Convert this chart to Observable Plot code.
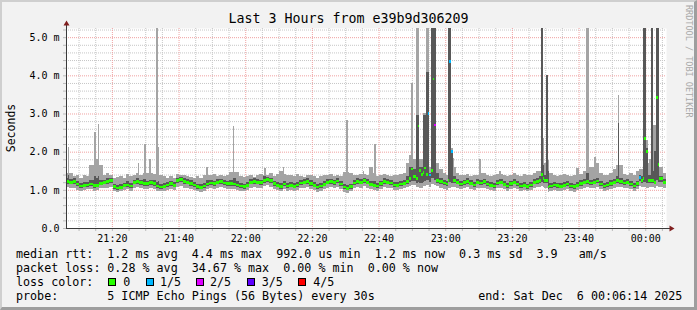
<!DOCTYPE html>
<html>
<head>
<meta charset="utf-8">
<script src="https://cdn.jsdelivr.net/npm/d3@7"></script>
<script src="https://cdn.jsdelivr.net/npm/@observablehq/plot@0.6"></script>
<style>
  html, body { margin: 0; padding: 0; background: #f2f2f2; }
  #wrap { position: relative; width: 697px; height: 310px; background: #f2f2f2; overflow: hidden;
          font-family: "DejaVu Sans Mono", monospace; color: #000; }
  #wrap > svg { position: absolute; left: 0; top: 0; }
  #border { position: absolute; left: 0; top: 0; width: 697px; height: 310px; box-sizing: border-box;
            border-style: solid; border-width: 2px 3px 3px 2px;
            border-color: #cfcfcf #9e9e9e #9e9e9e #cfcfcf; pointer-events: none; }
  .t { position: absolute; white-space: pre; line-height: 14px; font-size: 11.7px; }
  #title { position: absolute; left: 0; width: 697px; top: 11px; text-align: center; font-size: 13.3px; line-height: 16px; white-space: pre; }
  #wm { position: absolute; left: 684px; top: 5px; writing-mode: vertical-rl; font-size: 8.5px; line-height: 9px; color: #a9a9a9; white-space: pre; }
  #ylab { position: absolute; left: 10.5px; top: 128px; font-size: 11.5px; line-height: 12px; white-space: pre;
          transform: translate(-50%, -50%) rotate(-90deg); }
  .box { position: absolute; width: 6px; height: 6px; border: 1px solid #000; }
</style>
</head>
<body>
<div id="wrap">
  <div id="title">Last 3 Hours from e39b9d306209</div>
  <div id="wm">RRDTOOL / TOBI OETIKER</div>
  <div id="ylab">Seconds</div>
  <div id="border"></div>
</div>
<script>
// ---- data (milliseconds) ----
// base series: one row per minute from 21:06:14 to 00:06:14
const startMs = Date.UTC(2025, 11, 5, 21, 6, 14);
const stepMs = 60000;

const medianRtt = [
  1.21,1.20,1.22,1.15,1.10,1.12,1.13,1.15,1.11,1.12,
  1.17,1.20,1.21,1.25,1.08,1.05,1.06,1.12,1.13,1.10,
  1.20,1.21,1.19,1.17,1.16,1.19,1.17,1.10,1.07,1.09,
  1.13,1.16,1.12,1.25,1.27,1.22,1.20,1.17,1.13,1.08,
  1.06,1.10,1.15,1.18,1.16,1.20,1.21,1.18,1.16,1.17,
  1.15,1.13,1.10,1.08,1.12,1.20,1.22,1.20,1.19,1.25,
  1.27,1.24,1.16,1.12,1.08,1.15,1.10,1.12,1.09,1.13,
  1.18,1.20,1.22,1.17,1.12,1.07,1.10,1.14,1.20,1.21,
  1.19,1.23,1.15,1.07,1.04,1.08,1.18,1.22,1.20,1.24,
  1.20,1.14,1.12,1.10,1.16,1.22,1.20,1.18,1.13,1.12,
  1.15,1.17,1.22,1.30,1.35,1.35,1.40,1.45,1.40,1.39,
  1.35,1.25,1.22,1.18,1.15,1.25,1.25,1.20,1.15,1.19,
  1.22,1.17,1.13,1.20,1.18,1.21,1.15,1.12,1.10,1.18,
  1.20,1.14,1.10,1.16,1.20,1.15,1.10,1.12,1.08,1.13,
  1.20,1.22,1.25,1.25,1.07,1.10,1.13,1.11,1.09,1.12,
  1.15,1.10,1.08,1.12,1.17,1.20,1.22,1.18,1.20,1.23,
  1.15,1.10,1.13,1.17,1.20,1.25,1.22,1.18,1.20,1.15,
  1.10,1.16,1.25,1.30,1.25,1.25,1.20,1.30,1.30,1.20
];
const minRtt = [
  1.08,1.05,1.06,1.00,0.98,1.00,1.01,1.02,0.98,0.99,
  1.04,1.06,1.05,1.08,0.97,0.95,0.96,1.00,1.01,0.98,
  1.05,1.07,1.04,1.03,1.02,1.05,1.03,0.98,0.96,0.97,
  1.00,1.02,0.99,1.08,1.10,1.06,1.05,1.03,1.00,0.96,
  0.95,0.98,1.02,1.04,1.02,1.06,1.07,1.04,1.02,1.03,
  1.01,1.00,0.98,0.96,1.00,1.06,1.08,1.06,1.05,1.10,
  1.12,1.08,1.02,0.99,0.96,1.01,0.98,1.00,0.97,1.00,
  1.04,1.06,1.08,1.03,0.99,0.95,0.98,1.01,1.06,1.07,
  1.05,1.08,1.02,0.95,0.93,0.96,1.04,1.08,1.06,1.10,
  1.06,1.01,0.99,0.97,1.02,1.08,1.06,1.04,1.00,0.99,
  1.02,1.04,1.08,1.10,1.12,1.08,1.06,1.10,1.12,1.08,
  1.10,1.10,1.05,1.03,1.00,1.05,1.08,1.05,1.02,1.04,
  1.07,1.03,1.00,1.06,1.04,1.06,1.02,0.99,0.97,1.04,
  1.06,1.01,0.97,1.02,1.06,1.02,0.97,0.99,0.96,1.00,
  1.06,1.08,1.08,1.06,0.95,0.97,1.00,0.98,0.96,0.99,
  1.02,0.97,0.95,0.99,1.03,1.06,1.08,1.04,1.06,1.08,
  1.02,0.97,1.00,1.03,1.06,1.08,1.08,1.04,1.06,1.02,
  0.97,1.02,1.08,1.08,1.06,1.08,1.05,1.08,1.08,1.04
];
const p2Rtt = [
  1.15,1.14,1.16,1.10,1.05,1.07,1.08,1.10,1.06,1.07,
  1.12,1.14,1.15,1.18,1.03,1.00,1.01,1.07,1.08,1.05,
  1.14,1.15,1.13,1.11,1.10,1.13,1.11,1.05,1.02,1.04,
  1.08,1.10,1.07,1.18,1.20,1.16,1.14,1.11,1.08,1.03,
  1.01,1.05,1.09,1.12,1.10,1.14,1.15,1.12,1.10,1.11,
  1.09,1.08,1.05,1.03,1.07,1.14,1.16,1.14,1.13,1.18,
  1.20,1.17,1.10,1.07,1.03,1.09,1.05,1.07,1.04,1.08,
  1.12,1.14,1.16,1.11,1.07,1.02,1.05,1.09,1.14,1.15,
  1.13,1.17,1.10,1.02,0.99,1.03,1.12,1.16,1.14,1.18,
  1.14,1.09,1.07,1.05,1.10,1.16,1.14,1.12,1.08,1.07,
  1.10,1.12,1.16,1.20,1.22,1.20,1.18,1.22,1.22,1.20,
  1.20,1.18,1.16,1.12,1.10,1.18,1.18,1.14,1.10,1.13,
  1.16,1.12,1.08,1.14,1.12,1.15,1.10,1.07,1.05,1.12,
  1.14,1.09,1.05,1.10,1.14,1.10,1.05,1.07,1.03,1.08,
  1.14,1.16,1.18,1.18,1.02,1.05,1.08,1.06,1.04,1.07,
  1.10,1.05,1.03,1.07,1.11,1.14,1.16,1.12,1.14,1.17,
  1.10,1.05,1.08,1.11,1.14,1.18,1.16,1.12,1.14,1.10,
  1.05,1.10,1.18,1.20,1.18,1.18,1.14,1.20,1.20,1.14
];
const p4Rtt = [
  1.30,1.28,1.30,1.22,1.18,1.20,1.21,1.25,1.25,1.25,
  1.26,1.27,1.30,1.31,1.16,1.13,1.15,1.19,1.22,1.18,
  1.27,1.30,1.26,1.28,1.24,1.27,1.25,1.20,1.16,1.17,
  1.21,1.24,1.20,1.32,1.34,1.30,1.28,1.25,1.21,1.16,
  1.14,1.18,1.25,1.26,1.24,1.28,1.29,1.26,1.24,1.27,
  1.30,1.22,1.18,1.16,1.20,1.28,1.30,1.28,1.27,1.35,
  1.34,1.32,1.24,1.20,1.17,1.24,1.18,1.21,1.17,1.21,
  1.26,1.28,1.30,1.25,1.20,1.15,1.18,1.22,1.28,1.29,
  1.27,1.31,1.23,1.16,1.13,1.16,1.26,1.30,1.28,1.32,
  1.28,1.24,1.22,1.18,1.24,1.30,1.28,1.26,1.21,1.20,
  1.23,1.26,1.35,1.60,1.55,1.60,1.60,1.65,1.60,1.50,
  1.50,1.45,1.32,1.26,1.23,1.35,1.35,1.28,1.23,1.27,
  1.30,1.25,1.21,1.28,1.26,1.29,1.23,1.20,1.18,1.26,
  1.28,1.22,1.18,1.24,1.28,1.23,1.18,1.20,1.16,1.21,
  1.28,1.30,1.35,1.40,1.50,1.18,1.21,1.19,1.17,1.20,
  1.23,1.18,1.16,1.20,1.25,1.28,1.30,1.26,1.28,1.31,
  1.23,1.18,1.21,1.25,1.28,1.35,1.30,1.26,1.28,1.23,
  1.18,1.24,1.35,1.45,1.40,1.40,1.50,1.50,1.35,1.28
];
const maxRtt = [
  1.45,1.45,1.35,1.40,1.32,1.38,1.35,1.65,1.65,1.65,
  1.65,1.40,1.45,1.38,1.30,1.33,1.36,1.30,1.42,1.35,
  1.38,1.45,1.40,1.45,1.45,1.45,1.42,1.45,1.40,1.35,
  1.32,1.36,1.30,1.42,1.40,1.38,1.35,1.33,1.30,1.36,
  1.32,1.40,1.40,1.38,1.42,1.35,1.40,1.36,1.38,1.48,
  1.48,1.48,1.35,1.33,1.36,1.38,1.34,1.40,1.42,1.40,
  1.38,1.45,1.36,1.42,1.50,1.42,1.38,1.40,1.35,1.42,
  1.36,1.33,1.40,1.38,1.35,1.32,1.36,1.40,1.38,1.42,
  1.35,1.40,1.36,1.48,1.48,1.45,1.38,1.40,1.42,1.42,
  1.38,1.60,1.45,1.36,1.40,1.42,1.38,1.36,1.40,1.38,
  1.42,1.45,1.70,1.90,1.80,1.80,1.80,1.85,1.90,1.70,
  1.70,1.70,1.55,1.45,1.40,1.60,1.60,1.45,1.38,1.40,
  1.42,1.36,1.40,1.38,1.45,1.45,1.40,1.36,1.38,1.42,
  1.42,1.40,1.36,1.38,1.45,1.40,1.36,1.42,1.38,1.40,
  1.45,1.50,1.50,1.70,1.60,1.45,1.40,1.36,1.38,1.42,
  1.40,1.36,1.38,1.56,1.42,1.50,1.55,1.60,1.60,1.70,
  1.45,1.40,1.38,1.45,1.55,1.65,1.65,1.42,1.40,1.45,
  1.38,1.50,1.55,1.60,1.70,1.80,2.70,1.80,1.60,1.45
];

// finer detail: individual 30 s steps (index of the half-minute slot) that stand out
const spikeSlot = [1,17,18,19,43,47,50,54,55,84,100,119,130,168,178,185,
  207,210,211,212,214,215,216,217,218,219,220,221,229,230,231,232,248,260,
  285,286,287,288,289,312,313,317,331,344,346,347,348,351,352,353,354,355];
const spikeMin = [1.08,0.98,0.99,0.99,1.07,1.03,1.05,0.98,0.98,1.02,1.01,1.10,1.01,0.93,1.10,0.99,
  1.12,1.08,1.08,1.06,1.10,1.10,1.12,1.12,1.08,1.15,1.15,1.12,1.05,1.05,1.08,1.08,1.04,1.06,
  1.10,1.08,1.06,1.06,0.95,1.08,1.08,1.06,1.08,1.10,1.08,1.08,1.06,1.08,1.08,1.05,1.10,1.08];
const spikeP2 = [1.15,1.06,1.07,1.07,1.15,1.11,1.13,1.05,1.05,1.09,1.09,1.18,1.09,0.99,1.18,1.07,
  1.22,1.18,1.20,1.18,1.20,1.22,1.25,1.25,1.20,1.30,1.30,1.25,1.20,1.20,1.18,1.18,1.12,1.14,
  1.20,1.18,1.18,1.18,1.02,1.16,1.16,1.14,1.18,1.22,1.20,1.20,1.18,1.18,1.18,1.14,1.25,1.20];
const spikeMed = [1.21,1.11,1.12,1.12,1.21,1.17,1.19,1.10,1.10,1.15,1.15,1.25,1.15,1.04,1.24,1.12,
  1.55,1.30,2.67,1.50,1.45,1.57,1.40,3.00,1.39,1.50,3.90,2.70,1.25,4.36,2.00,1.25,1.18,1.20,
  1.40,1.30,1.25,1.25,1.07,1.22,1.22,1.20,1.25,1.32,1.30,2.35,2.00,1.25,1.25,1.20,3.42,1.67];
const spikeP4 = [1.39,1.35,1.30,1.35,1.30,1.28,1.27,1.20,1.22,1.25,1.30,1.35,1.24,1.13,1.32,1.22,
  1.60,2.95,2.95,1.60,2.95,2.95,4.10,4.10,1.45,6.00,6.00,6.00,6.00,6.00,2.05,1.35,1.26,1.28,
  6.00,1.65,1.40,4.00,1.50,1.45,1.45,1.28,2.75,1.40,6.00,6.00,2.10,6.00,1.50,2.03,6.00,6.00];
const spikeMax = [2.13,2.51,1.80,2.72,1.71,2.20,1.80,6.00,2.12,1.61,2.67,1.58,1.61,2.83,1.50,2.20,
  3.81,6.00,6.00,1.80,3.00,3.00,6.00,6.00,1.60,6.00,6.00,6.00,6.00,6.00,2.10,1.83,1.82,1.50,
  6.00,2.35,1.70,4.00,1.78,6.00,6.00,1.87,3.49,1.55,6.00,6.00,2.30,6.00,2.70,2.70,6.00,6.00];
const spikeLoss = [0,0,0,0,0,0,0,0,0,0,0,0,0,0,0,0,
  0,0,0,0,0,0,0,1,1,0,0,2,0,1,1,0,0,0,
  0,0,0,0,0,0,0,0,0,1,0,0,0,0,0,0,0,0];

const lossLabels = ["0", "1/5", "2/5", "3/5", "4/5"];
const lossColors = ["#26ff00", "#00b8ff", "#dd00ff", "#5e00ff", "#ff0000"];

const yTicks = [0, 1, 2, 3, 4, 5];
const yTickLabels = ["0.0", "1.0 m", "2.0 m", "3.0 m", "4.0 m", "5.0 m"];
const xTickLabels = ["21:20", "21:40", "22:00", "22:20", "22:40", "23:00", "23:20", "23:40", "00:00"];

const legendLines = [
  ["median rtt:", "1.2 ms avg  4.4 ms max  992.0 us min  1.2 ms now  0.3 ms sd  3.9   am/s"],
  ["packet loss:", "0.28 % avg  34.67 % max  0.00 % min  0.00 % now"],
  ["loss color:", null],
  ["probe:", "5 ICMP Echo Pings (56 Bytes) every 30s"]
];
const endText = "end: Sat Dec  6 00:06:14 2025";

// ---- build 30 s rows ----
const halfMs = stepMs / 2;
const start = new Date(startMs);
const end = new Date(startMs + medianRtt.length * stepMs);
const rows = [];
medianRtt.forEach((m, i) => {
  for (let h = 0; h < 2; h++) {
    rows.push({ slot: 2 * i + h, lo: minRtt[i], p2: p2Rtt[i], med: m, p4: p4Rtt[i], hi: maxRtt[i], loss: 0 });
  }
});
spikeSlot.forEach((s, k) => {
  Object.assign(rows[s], { lo: spikeMin[k], p2: spikeP2[k], med: spikeMed[k], p4: spikeP4[k], hi: spikeMax[k], loss: spikeLoss[k] });
});
rows.forEach(r => { r.t0 = new Date(startMs + r.slot * halfMs); r.t1 = new Date(startMs + (r.slot + 1) * halfMs); });

const yMax = 5.24;
const yGrid = d3.range(1, 27).map(i => Math.round(i * 2) / 10);
const yMinor = yGrid.filter(v => Math.abs(v - Math.round(v)) > 1e-6);
const yMajor = yGrid.filter(v => Math.abs(v - Math.round(v)) <= 1e-6);
const x5 = d3.utcMinute.every(5).range(start, end);
const xMajor = x5.filter(d => d.getUTCMinutes() % 20 === 0);
const xMinor = x5.filter(d => d.getUTCMinutes() % 20 !== 0);
const yLab = new Map(yTicks.map((v, i) => [v, yTickLabels[i]]));
const xLab = new Map(xMajor.map((d, i) => [+d, xTickLabels[i]]));

const gridC = "#c6c6c6", mgridC = "#f0a2a2";

const chart = Plot.plot({
  width: 697, height: 310,
  marginLeft: 66, marginRight: 31, marginTop: 28, marginBottom: 82,
  style: { background: "transparent", fontFamily: "DejaVu Sans Mono", fontSize: "10px", color: "#000", overflow: "visible" },
  x: { type: "utc", domain: [start, end], axis: null },
  y: { domain: [0, yMax], axis: null },
  color: { type: "identity" },
  marks: [
    Plot.frame({ fill: "#ffffff", stroke: "none" }),
    Plot.ruleY(yMinor, { stroke: gridC, strokeDasharray: "1,1" }),
    Plot.ruleX(xMinor, { stroke: gridC, strokeDasharray: "1,1" }),
    Plot.ruleY(yMajor, { stroke: mgridC, strokeDasharray: "1,1" }),
    Plot.ruleX(xMajor, { stroke: mgridC, strokeDasharray: "1,1" }),
    Plot.rect(rows, { x1: "t0", x2: "t1", y1: "lo", y2: "hi", fill: "#a4a4a4", clip: true, shapeRendering: "crispEdges" }),
    Plot.rect(rows, { x1: "t0", x2: "t1", y1: "p2", y2: "p4", fill: "#585858", clip: true, shapeRendering: "crispEdges" }),
    Plot.rect(rows, { x1: "t0", x2: "t1", y1: d => d.med - 0.035, y2: d => d.med + 0.035,
                      fill: d => lossColors[d.loss], clip: true, shapeRendering: "crispEdges" }),
    Plot.axisY(yGrid.concat([0]), { tickSize: 3, text: null, stroke: "#bbbbbb" }),
    Plot.axisX(x5, { tickSize: 3, text: null, stroke: "#bbbbbb" }),
    Plot.axisY(yTicks, { tickSize: 0, tickPadding: 7, tickFormat: v => yLab.get(v), label: null, fontSize: 10 }),
    Plot.axisX(xMajor, { tickSize: 0, tickPadding: 6, tickFormat: d => xLab.get(+d), label: null, fontSize: 10 })
  ]
});

const wrap = document.getElementById("wrap");
wrap.insertBefore(chart, wrap.firstChild);

// axis lines and arrows, placed through the plot's own scales
const sx = chart.scale("x"), sy = chart.scale("y");
const X0 = sx.apply(start), X1 = sx.apply(end), Y0 = sy.apply(0), YT = sy.apply(yMax);
const g = d3.select(chart).append("g");
g.append("line").attr("x1", X0 + 0.5).attr("x2", X0 + 0.5).attr("y1", Y0 + 0.5).attr("y2", YT - 3)
  .attr("stroke", "#3a3a3a").attr("stroke-width", 1);
g.append("line").attr("x1", X0).attr("x2", X1 + 4).attr("y1", Y0 + 0.5).attr("y2", Y0 + 0.5)
  .attr("stroke", "#3a3a3a").attr("stroke-width", 1);
g.append("path").attr("d", `M${X0 - 2.5},${YT - 2.5}L${X0 + 3.5},${YT - 2.5}L${X0 + 0.5},${YT - 7.5}Z`).attr("fill", "#801f1f");
g.append("path").attr("d", `M${X1 + 3.5},${Y0 - 2.5}L${X1 + 3.5},${Y0 + 3.5}L${X1 + 8.5},${Y0 + 0.5}Z`).attr("fill", "#801f1f");

// legend text
const lineCenters = [254.3, 268.3, 282.3, 296];
function addText(txt, left, center) {
  const el = document.createElement("div");
  el.className = "t";
  el.textContent = txt;
  el.style.left = left + "px";
  el.style.top = (center - 7) + "px";
  wrap.insertBefore(el, document.getElementById("border"));
  return el;
}
legendLines.forEach(([label, body], i) => {
  addText(label, 16, lineCenters[i]);
  if (body) addText(body, 107.3, lineCenters[i]);
});
const boxX = [108.3, 145.7, 196, 247.3, 297.7];
const lblX = [123.3, 160, 210, 261.7, 313.3];
lossLabels.forEach((lab, i) => {
  const b = document.createElement("div");
  b.className = "box";
  b.style.left = boxX[i] + "px";
  b.style.top = (lineCenters[2] - 4) + "px";
  b.style.background = lossColors[i];
  wrap.insertBefore(b, document.getElementById("border"));
  addText(lab, lblX[i], lineCenters[2]);
});
addText(endText, 478.3, lineCenters[3]);
</script>
</body>
</html>
